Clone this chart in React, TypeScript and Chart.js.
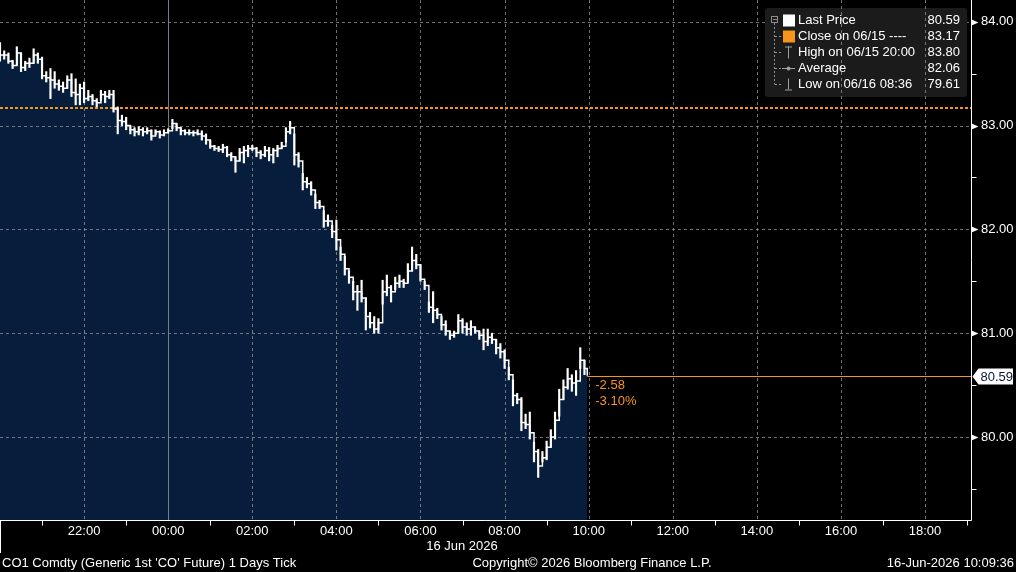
import { useEffect, useRef } from 'react';
import { Chart, registerables } from 'chart.js';

Chart.register(...registerables);

// ---- data (minutes after 20:00 on 06/15, 6-minute tick bars) ----
const BAR_MINUTES = 6;
const barHigh = [
  83.80, 83.72, 83.70, 83.63, 83.76, 83.70, 83.62, 83.65, 83.74, 83.70,
  83.66, 83.52, 83.55, 83.52, 83.44, 83.42, 83.48, 83.50, 83.45, 83.40,
  83.42, 83.34, 83.30, 83.26, 83.34, 83.33, 83.34, 83.34, 83.18, 83.10,
  83.08, 83.00, 82.98, 82.99, 82.98, 82.98, 82.96, 82.96, 82.95, 82.96,
  82.97, 83.06, 83.02, 82.98, 82.96, 82.96, 82.95, 82.96, 82.95, 82.92,
  82.86, 82.81, 82.80, 82.82, 82.80, 82.74, 82.70, 82.78, 82.80, 82.81,
  82.81, 82.79, 82.76, 82.80, 82.79, 82.78, 82.81, 82.84, 82.98, 83.04,
  82.92, 82.74, 82.54, 82.50, 82.46, 82.34, 82.28, 82.18, 82.14, 82.04,
  82.09, 81.83, 81.74, 81.60, 81.50, 81.46, 81.51, 81.34, 81.20, 81.16,
  81.14, 81.51, 81.56, 81.46, 81.54, 81.56, 81.52, 81.67, 81.83, 81.76,
  81.66, 81.50, 81.30, 81.40, 81.24, 81.16, 81.12, 81.02, 81.02, 81.18,
  81.14, 81.10, 81.12, 81.06, 81.02, 81.04, 81.04, 81.00, 80.94, 80.90,
  80.84, 80.67, 80.55, 80.42, 80.38, 80.22, 80.24, 79.95, 79.88, 79.86,
  79.96, 80.07, 80.24, 80.46, 80.55, 80.66, 80.60, 80.64, 80.86, 80.74,
];
const barLow = [
  83.62, 83.64, 83.60, 83.55, 83.58, 83.52, 83.53, 83.56, 83.60, 83.60,
  83.45, 83.42, 83.26, 83.36, 83.34, 83.32, 83.36, 83.28, 83.20, 83.20,
  83.22, 83.24, 83.20, 83.18, 83.24, 83.22, 83.26, 83.13, 82.92, 83.00,
  82.96, 82.92, 82.90, 82.91, 82.90, 82.92, 82.86, 82.91, 82.88, 82.90,
  82.93, 82.97, 82.95, 82.91, 82.91, 82.91, 82.90, 82.91, 82.86, 82.82,
  82.78, 82.76, 82.75, 82.74, 82.70, 82.66, 82.55, 82.66, 82.64, 82.70,
  82.76, 82.70, 82.68, 82.70, 82.66, 82.64, 82.70, 82.78, 82.84, 82.92,
  82.62, 82.60, 82.38, 82.40, 82.33, 82.20, 82.20, 82.02, 82.03, 81.92,
  81.80, 81.70, 81.56, 81.48, 81.32, 81.22, 81.30, 81.03, 81.05, 81.00,
  81.00, 81.28, 81.36, 81.30, 81.42, 81.44, 81.44, 81.49, 81.60, 81.62,
  81.50, 81.42, 81.20, 81.10, 81.14, 81.03, 80.98, 80.94, 80.96, 81.00,
  81.00, 80.98, 80.98, 81.00, 80.94, 80.84, 80.88, 80.90, 80.80, 80.76,
  80.66, 80.55, 80.30, 80.32, 80.06, 80.08, 79.98, 79.76, 79.61, 79.76,
  79.78, 79.90, 79.98, 80.20, 80.36, 80.46, 80.44, 80.40, 80.66, 80.60,
];
const barClose = [
  83.68, 83.68, 83.62, 83.58, 83.70, 83.56, 83.60, 83.60, 83.68, 83.64,
  83.48, 83.46, 83.44, 83.40, 83.38, 83.36, 83.44, 83.32, 83.30, 83.36,
  83.26, 83.28, 83.24, 83.22, 83.30, 83.28, 83.30, 83.16, 83.05, 83.04,
  83.00, 82.96, 82.94, 82.96, 82.94, 82.95, 82.90, 82.94, 82.91, 82.93,
  82.95, 83.02, 82.98, 82.95, 82.93, 82.93, 82.93, 82.92, 82.90, 82.86,
  82.80, 82.78, 82.77, 82.79, 82.72, 82.70, 82.66, 82.74, 82.76, 82.78,
  82.78, 82.74, 82.72, 82.76, 82.72, 82.76, 82.78, 82.80, 82.94, 82.98,
  82.72, 82.66, 82.46, 82.44, 82.38, 82.26, 82.22, 82.08, 82.08, 81.98,
  81.90, 81.76, 81.62, 81.54, 81.40, 81.40, 81.34, 81.16, 81.10, 81.04,
  81.10, 81.40, 81.44, 81.40, 81.48, 81.50, 81.48, 81.60, 81.70, 81.66,
  81.52, 81.46, 81.25, 81.22, 81.18, 81.08, 81.02, 80.98, 81.00, 81.12,
  81.06, 81.04, 81.06, 81.02, 80.98, 80.92, 80.96, 80.94, 80.86, 80.82,
  80.74, 80.60, 80.40, 80.36, 80.14, 80.12, 80.04, 79.86, 79.72, 79.80,
  79.90, 80.00, 80.16, 80.36, 80.48, 80.56, 80.52, 80.54, 80.74, 80.66,
];
const lastPrice = 80.59;
const lastMinute = 838;
const prevClose = 83.17;
const netChangeText = '-2.58';
const pctChangeText = '-3.10%';

const xStartHour = 20;
const xMaxMinutes = 1387;
const xTickLabels = ['22:00', '00:00', '02:00', '04:00', '06:00', '08:00', '10:00', '12:00', '14:00', '16:00', '18:00'];
const dayBoundaryLabel = '00:00';
const yMin = 79.2;
const yMax = 84.21;
const yTickValues = [80, 81, 82, 83, 84];
const yMinorValues = [79.5, 80.5, 81.5, 82.5, 83.5];

const legendLabels = ['Last Price', 'Close on 06/15 ----', 'High on 06/15 20:00', 'Average', 'Low on 06/16 08:36'];
const legendValues = ['80.59', '83.17', '83.80', '82.06', '79.61'];
const dateLabel = '16 Jun 2026';
const footerLeft = "CO1 Comdty (Generic 1st 'CO' Future) 1 Days Tick";
const footerCenter = 'Copyright\u00A9 2026 Bloomberg Finance L.P.';
const footerRight = '16-Jun-2026 10:09:36';

// ---- styles ----
const FAMILY = '"Liberation Sans", Arial, sans-serif';
const FONT = `13px ${FAMILY}`;
const ORANGE = '#f7941d';
const NAVY = '#061e3c';
const GRID = 'rgba(160,160,160,0.7)';
const DAYLINE = '#6f7d8c';

const labelToMinutes = (s: string) => {
  const h = parseInt(s.slice(0, 2), 10);
  return ((h - xStartHour + 24) % 24) * 60;
};
const xTickMinutes = xTickLabels.map(labelToMinutes);

const closePoints = barClose
  .map((c, i) => ({ x: i * BAR_MINUTES, y: c }))
  .concat([{ x: lastMinute, y: lastPrice }]);
const rangeBars = barHigh.map((h, i) => ({ x: i * BAR_MINUTES, y: [barLow[i], h] }));

const seg = (ctx: CanvasRenderingContext2D, x1: number, y1: number, x2: number, y2: number) => {
  ctx.beginPath();
  ctx.moveTo(x1, y1);
  ctx.lineTo(x2, y2);
  ctx.stroke();
};

const decorPlugin = {
  id: 'decor',
  beforeDraw(chart: any) {
    const { ctx, width, height } = chart;
    ctx.save();
    ctx.fillStyle = '#000';
    ctx.fillRect(0, 0, width, height);
    ctx.restore();
  },
  afterDatasetDraw(chart: any, args: any) {
    if (args.index !== 0) return;
    const { ctx, chartArea: a } = chart;
    const x = chart.scales.x;
    const y = chart.scales.y;
    ctx.save();
    ctx.beginPath();
    ctx.rect(a.left, a.top, a.right - a.left, a.bottom - a.top);
    ctx.clip();
    ctx.lineWidth = 1;
    ctx.strokeStyle = GRID;
    ctx.setLineDash([3, 3]);
    for (const v of yTickValues) {
      const py = Math.round(y.getPixelForValue(v)) + 0.5;
      seg(ctx, a.left, py, a.right, py);
    }
    const dayMin = labelToMinutes(dayBoundaryLabel);
    for (const t of xTickMinutes) {
      if (t === dayMin) continue;
      const px = Math.round(x.getPixelForValue(t)) + 0.5;
      seg(ctx, px, a.top, px, a.bottom);
    }
    ctx.setLineDash([]);
    ctx.strokeStyle = DAYLINE;
    const dpx = Math.round(x.getPixelForValue(dayMin)) + 0.5;
    seg(ctx, dpx, a.top, dpx, a.bottom);
    // previous close
    ctx.strokeStyle = ORANGE;
    ctx.lineWidth = 2;
    ctx.setLineDash([3, 2]);
    const cy = Math.round(y.getPixelForValue(prevClose));
    seg(ctx, a.left, cy, a.right, cy);
    ctx.restore();
  },
  afterDatasetsDraw(chart: any) {
    const { ctx, chartArea: a } = chart;
    const x = chart.scales.x;
    const y = chart.scales.y;
    ctx.save();
    // last price line and change text
    const lx = x.getPixelForValue(lastMinute);
    const ly = Math.round(y.getPixelForValue(lastPrice)) + 0.5;
    ctx.strokeStyle = ORANGE;
    ctx.lineWidth = 1;
    seg(ctx, lx, ly, a.right, ly);
    ctx.fillStyle = ORANGE;
    ctx.font = FONT;
    ctx.textAlign = 'left';
    ctx.textBaseline = 'middle';
    ctx.fillText(netChangeText, lx + 8, ly + 9);
    ctx.fillText(pctChangeText, lx + 8, ly + 25);

    // legend box
    const bx = 765, by = 8, bw = 202, bh = 89;
    ctx.fillStyle = '#1b1b1b';
    ctx.beginPath();
    (ctx as any).roundRect(bx, by, bw, bh, 3);
    ctx.fill();
    // vertical grid lines visible through legend
    ctx.save();
    ctx.beginPath();
    ctx.rect(bx, by, bw, bh);
    ctx.clip();
    ctx.strokeStyle = GRID;
    ctx.setLineDash([3, 3]);
    for (const t of xTickMinutes) {
      const px = Math.round(x.getPixelForValue(t)) + 0.5;
      if (px > bx && px < bx + bw) seg(ctx, px, a.top, px, a.bottom);
    }
    ctx.restore();

    const rowY = (i: number) => 20.5 + i * 16;
    // tree
    ctx.strokeStyle = '#8c8c8c';
    ctx.lineWidth = 1;
    ctx.setLineDash([]);
    ctx.strokeRect(771.5, 16.5, 6, 6);
    seg(ctx, 773, 19.5, 777, 19.5);
    ctx.setLineDash([2, 2]);
    seg(ctx, 774.5, 23, 774.5, rowY(4));
    for (let i = 1; i < 5; i++) seg(ctx, 775, rowY(i), 781, rowY(i));
    ctx.setLineDash([]);
    // icons
    ctx.fillStyle = '#ffffff';
    ctx.fillRect(783, rowY(0) - 6, 12, 12);
    ctx.fillStyle = ORANGE;
    ctx.fillRect(783, rowY(1) - 6, 12, 12);
    ctx.strokeStyle = '#a0a0a0';
    seg(ctx, 785, rowY(2) - 5.5, 792, rowY(2) - 5.5);
    seg(ctx, 788.5, rowY(2) - 6, 788.5, rowY(2) + 6);
    seg(ctx, 782, rowY(3), 795, rowY(3));
    ctx.beginPath();
    ctx.arc(788.5, rowY(3), 2, 0, Math.PI * 2);
    ctx.fillStyle = '#a0a0a0';
    ctx.fill();
    seg(ctx, 788.5, rowY(4) - 6, 788.5, rowY(4) + 5);
    seg(ctx, 785, rowY(4) + 5.5, 792, rowY(4) + 5.5);
    // legend texts
    ctx.fillStyle = '#ffffff';
    ctx.font = FONT;
    ctx.textBaseline = 'middle';
    legendLabels.forEach((s, i) => {
      ctx.textAlign = 'left';
      ctx.fillText(s, 798, rowY(i));
      ctx.textAlign = 'right';
      ctx.fillText(legendValues[i], 960, rowY(i));
    });
    ctx.restore();
  },
  afterDraw(chart: any) {
    const { ctx, chartArea: a, width } = chart;
    const x = chart.scales.x;
    const y = chart.scales.y;
    ctx.save();
    ctx.strokeStyle = '#ffffff';
    ctx.fillStyle = '#ffffff';
    ctx.lineWidth = 1;
    const ax = Math.round(a.right) - 0.5;
    const ay = Math.round(a.bottom) + 0.5;
    seg(ctx, ax, 0, ax, ay);
    seg(ctx, 0, ay, ax, ay);
    seg(ctx, 0.5, ay, 0.5, 553);
    // x minor ticks (odd hours)
    for (let t = 60; t <= xMaxMinutes; t += 120) {
      const px = Math.round(x.getPixelForValue(t)) + 0.5;
      seg(ctx, px, ay, px, ay + 5);
    }
    // y major arrows / minor ticks
    for (const v of yTickValues) {
      const py = Math.round(y.getPixelForValue(v)) + 0.5;
      ctx.beginPath();
      ctx.moveTo(ax, py - 3);
      ctx.lineTo(ax + 7, py);
      ctx.lineTo(ax, py + 3);
      ctx.closePath();
      ctx.fill();
    }
    for (const v of yMinorValues) {
      const py = Math.round(y.getPixelForValue(v)) + 0.5;
      seg(ctx, ax, py, ax + 5, py);
    }
    // last price label
    const ly = Math.round(y.getPixelForValue(lastPrice)) + 0.5;
    ctx.beginPath();
    ctx.moveTo(ax + 1, ly);
    ctx.lineTo(ax + 7, ly - 8);
    ctx.lineTo(width - 3, ly - 8);
    ctx.lineTo(width - 3, ly + 8);
    ctx.lineTo(ax + 7, ly + 8);
    ctx.closePath();
    ctx.fill();
    ctx.fillStyle = '#0b1830';
    ctx.font = FONT;
    ctx.textAlign = 'left';
    ctx.textBaseline = 'middle';
    ctx.fillText(legendValues[0], ax + 9, ly + 0.5);
    // date and footer
    ctx.fillStyle = '#ffffff';
    ctx.textAlign = 'center';
    ctx.fillText(dateLabel, 462, 546);
    ctx.textAlign = 'left';
    ctx.fillText(footerLeft, 2, 563);
    ctx.textAlign = 'center';
    ctx.fillText(footerCenter, 592, 563);
    ctx.textAlign = 'right';
    ctx.fillText(footerRight, width - 2, 563);
    ctx.restore();
  },
};

export default function App() {
  const ref = useRef<HTMLCanvasElement>(null);
  useEffect(() => {
    const canvas = ref.current;
    if (!canvas) return;
    const chart = new Chart(canvas, {
      type: 'line',
      data: {
        datasets: [
          {
            type: 'line',
            data: closePoints,
            stepped: 'before',
            borderWidth: 0,
            borderColor: 'rgba(0,0,0,0)',
            backgroundColor: NAVY,
            fill: 'start',
            pointRadius: 0,
            order: 3,
          },
          {
            type: 'line',
            data: closePoints,
            stepped: 'before',
            borderWidth: 1.5,
            borderColor: '#ffffff',
            fill: false,
            pointRadius: 0,
            order: 2,
          },
          {
            type: 'bar',
            data: rangeBars as any,
            backgroundColor: '#ffffff',
            borderWidth: 0,
            barThickness: 1.5,
            order: 1,
          },
        ] as any,
      },
      options: {
        animation: false,
        responsive: false,
        devicePixelRatio: 1,
        events: [],
        layout: { padding: 0 },
        plugins: { legend: { display: false }, tooltip: { enabled: false } },
        scales: {
          x: {
            type: 'linear',
            min: 0,
            max: xMaxMinutes,
            offset: false,
            grid: { display: false },
            border: { display: false },
            afterBuildTicks: (s: any) => {
              s.ticks = xTickMinutes.map((v) => ({ value: v }));
            },
            ticks: {
              autoSkip: false,
              maxRotation: 0,
              minRotation: 0,
              color: '#ffffff',
              font: { family: FAMILY, size: 13 },
              padding: -4,
              callback: (_v: any, i: number) => xTickLabels[i],
            },
            afterFit: (s: any) => {
              s.height = 52;
              s.paddingLeft = 0;
              s.paddingRight = 0;
            },
          },
          y: {
            type: 'linear',
            position: 'right',
            min: yMin,
            max: yMax,
            grid: { display: false },
            border: { display: false },
            afterBuildTicks: (s: any) => {
              s.ticks = yTickValues.map((v) => ({ value: v }));
            },
            ticks: {
              autoSkip: false,
              color: '#ffffff',
              font: { family: FAMILY, size: 13 },
              padding: 1,
              callback: (v: any) => Number(v).toFixed(2),
            },
            afterFit: (s: any) => {
              s.width = 44;
              s.paddingTop = 0;
              s.paddingBottom = 0;
            },
          },
        },
      } as any,
      plugins: [decorPlugin],
    });
    return () => chart.destroy();
  }, []);
  return (
    <div style={{ position: 'fixed', left: 0, top: 0, width: 1016, height: 572, background: '#000' }}>
      <canvas ref={ref} width={1016} height={572} style={{ display: 'block', width: 1016, height: 572 }} />
    </div>
  );
}
